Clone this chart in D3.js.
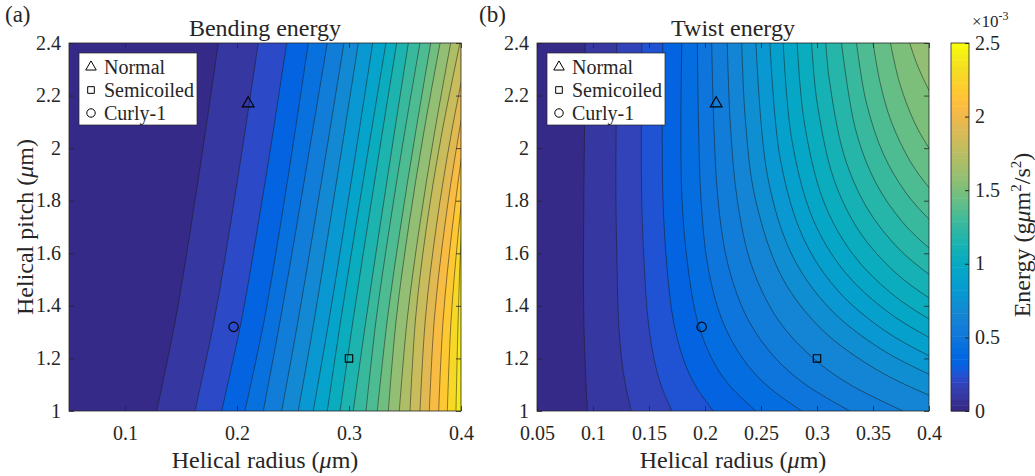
<!DOCTYPE html>
<html><head><meta charset="utf-8">
<script src="https://cdn.jsdelivr.net/npm/d3@7/dist/d3.min.js"></script>
<style>
body{margin:0;background:#fff}
text{font-family:"Liberation Serif","Times New Roman",serif;fill:#262626}
</style></head>
<body><svg id="c" width="1035" height="476"></svg>
<script>
// ---------------- data (energies in units of 1e-3 g um^2/s^2) ----------------
const colorMax = 2.5;
const xTicksA = [0.1, 0.2, 0.3, 0.4];
const xTicksB = [0.05, 0.1, 0.15, 0.2, 0.25, 0.3, 0.35, 0.4];
const yTicks = [1, 1.2, 1.4, 1.6, 1.8, 2, 2.2, 2.4];
const cbTicks = [0, 0.5, 1, 1.5, 2, 2.5];

// Bending energy: contour levels and radius of each contour at the pitch rows
const bendPitchRows = [1.0, 1.35, 1.7, 2.05, 2.4];
const bendLevels = [0.114,0.227,0.341,0.455,0.568,0.682,0.795,0.909,1.023,1.136,1.25,1.364,1.477,1.591,1.705,1.818,1.932,2.045,2.159,2.273,2.386,2.5];
const bendRadius = [
  [0.1283, 0.1452, 0.1588, 0.1714, 0.1833],
  [0.1625, 0.1799, 0.1938, 0.2067, 0.2190],
  [0.1863, 0.2042, 0.2185, 0.2318, 0.2444],
  [0.2071, 0.2245, 0.2385, 0.2514, 0.2637],
  [0.2235, 0.2388, 0.2531, 0.2669, 0.2806],
  [0.2399, 0.2548, 0.2687, 0.2822, 0.2955],
  [0.2547, 0.2691, 0.2824, 0.2955, 0.3083],
  [0.2681, 0.2823, 0.2956, 0.3085, 0.3212],
  [0.2806, 0.2928, 0.3059, 0.3194, 0.3330],
  [0.2920, 0.3038, 0.3164, 0.3294, 0.3426],
  [0.3038, 0.3153, 0.3276, 0.3402, 0.3530],
  [0.3152, 0.3243, 0.3362, 0.3493, 0.3634],
  [0.3253, 0.3343, 0.3460, 0.3591, 0.3730],
  [0.3351, 0.3422, 0.3532, 0.3664, 0.3813],
  [0.3449, 0.3520, 0.3629, 0.3760, 0.3908],
  [0.3545, 0.3594, 0.3692, 0.3826, 0.3991],
  [0.3634, 0.3682, 0.3779, 0.3911, 0.4073],
  [0.3717, 0.3762, 0.3854, 0.3979, 0.4133],
  [0.3801, 0.3841, 0.3923, 0.4034, 0.4170],
  [0.3878, 0.3912, 0.3981, 0.4074, 0.4189],
  [0.3955, 0.3975, 0.4008, 0.4095, 0.4250],
  [0.4030, 0.4050, 0.4090, 0.4170, 0.4300]
];

// Twist energy: contour levels and traced [radius, pitch] points (bottom/right -> top)
const twistLevels = [0.08,0.16,0.24,0.32,0.40,0.48,0.56,0.64,0.72,0.80,0.88,0.96,1.04,1.12,1.20,1.28,1.36,1.44,1.52,1.60];
const twistLines = [
  [[0.0951,1.0],[0.0938,1.1],[0.0929,1.2],[0.0918,1.345],[0.0915,1.55],[0.0918,1.8],[0.0925,2.1],[0.0931,2.4]],
  [[0.1341,1.0],[0.1290,1.1],[0.1255,1.2],[0.1228,1.345],[0.1215,1.55],[0.1205,1.8],[0.1207,2.1],[0.1213,2.4]],
  [[0.1704,1.0],[0.1606,1.1],[0.1544,1.2],[0.1492,1.345],[0.1458,1.55],[0.1435,1.8],[0.1432,2.1],[0.1436,2.4]],
  [[0.2074,1.0],[0.1909,1.1],[0.1805,1.2],[0.1717,1.345],[0.1660,1.55],[0.1625,1.8],[0.1618,2.1],[0.1623,2.4]],
  [[0.2455,1.0],[0.2213,1.1],[0.2060,1.2],[0.1931,1.345],[0.1847,1.55],[0.1795,1.8],[0.1785,2.1],[0.1793,2.4]],
  [[0.2862,1.0],[0.2545,1.1],[0.2337,1.2],[0.2153,1.345],[0.2026,1.55],[0.1965,1.8],[0.1942,2.1],[0.1932,2.4]],
  [[0.3293,1.0],[0.2900,1.1],[0.2631,1.2],[0.2388,1.345],[0.2209,1.55],[0.2117,1.8],[0.2078,2.1],[0.2060,2.4]],
  [[0.3768,1.0],[0.3297,1.1],[0.2968,1.2],[0.2656,1.345],[0.2419,1.55],[0.2289,1.8],[0.2225,2.1],[0.2199,2.4]],
  [[0.4306,1.01],[0.4,1.06],[0.3521,1.16],[0.3044,1.31],[0.2686,1.51],[0.2448,1.81],[0.2360,2.11],[0.2328,2.4]],
  [[0.4284,1.09],[0.4,1.14],[0.3555,1.24],[0.3113,1.39],[0.2781,1.59],[0.2560,1.89],[0.2455,2.4]],
  [[0.4262,1.16],[0.4,1.21],[0.3590,1.31],[0.3182,1.46],[0.2876,1.66],[0.2672,1.96],[0.2580,2.4]],
  [[0.4241,1.23],[0.4,1.28],[0.3622,1.38],[0.3246,1.53],[0.2964,1.73],[0.2776,2.03],[0.2698,2.4]],
  [[0.4220,1.30],[0.4,1.35],[0.3656,1.45],[0.3314,1.60],[0.3057,1.80],[0.2886,2.10],[0.2823,2.4]],
  [[0.4197,1.38],[0.4,1.43],[0.3691,1.53],[0.3383,1.68],[0.3152,1.88],[0.2999,2.18],[0.2952,2.4]],
  [[0.4176,1.47],[0.4,1.52],[0.3724,1.62],[0.3450,1.77],[0.3244,1.97],[0.3107,2.27],[0.3079,2.4]],
  [[0.4153,1.57],[0.4,1.62],[0.3761,1.72],[0.3523,1.87],[0.3345,2.07],[0.3219,2.4]],
  [[0.4131,1.68],[0.4,1.73],[0.3794,1.83],[0.3590,1.98],[0.3437,2.18],[0.3353,2.4]],
  [[0.4108,1.80],[0.4,1.85],[0.3832,1.95],[0.3664,2.10],[0.3563,2.25],[0.3501,2.4]],
  [[0.4085,1.95],[0.4,2.0],[0.3868,2.10],[0.3736,2.25],[0.3656,2.4]],
  [[0.4069,2.17],[0.4,2.22],[0.3892,2.32],[0.3828,2.4]]
];

// Flagellar forms
const formNames = ["Normal", "Semicoiled", "Curly-1"];
const formSymbols = ["triangle", "square", "circle"];
const formRadius = [0.21, 0.30, 0.197];
const formPitch = [2.17, 1.20, 1.32];

// ---------------- colormap (parula, 64) ----------------
const parulaTbl = [[0.2081,0.1663,0.5292],[0.2116,0.1898,0.5777],[0.2123,0.2138,0.6270],[0.2081,0.2386,0.6771],[0.1959,0.2645,0.7279],[0.1707,0.2919,0.7792],[0.1253,0.3242,0.8303],[0.0591,0.3598,0.8683],[0.0117,0.3875,0.8820],[0.0060,0.4086,0.8828],[0.0165,0.4266,0.8786],[0.0329,0.4430,0.8720],[0.0498,0.4586,0.8641],[0.0629,0.4737,0.8554],[0.0723,0.4887,0.8467],[0.0779,0.5040,0.8384],[0.0793,0.5200,0.8312],[0.0749,0.5375,0.8263],[0.0641,0.5570,0.8240],[0.0488,0.5772,0.8228],[0.0343,0.5966,0.8199],[0.0265,0.6137,0.8135],[0.0239,0.6287,0.8038],[0.0231,0.6418,0.7913],[0.0228,0.6535,0.7768],[0.0267,0.6642,0.7607],[0.0384,0.6743,0.7436],[0.0590,0.6838,0.7254],[0.0843,0.6928,0.7062],[0.1133,0.7015,0.6859],[0.1453,0.7098,0.6646],[0.1801,0.7177,0.6424],[0.2178,0.7250,0.6193],[0.2586,0.7317,0.5954],[0.3022,0.7376,0.5712],[0.3482,0.7424,0.5473],[0.3953,0.7459,0.5244],[0.4420,0.7481,0.5033],[0.4871,0.7491,0.4840],[0.5300,0.7491,0.4661],[0.5709,0.7485,0.4494],[0.6099,0.7473,0.4337],[0.6473,0.7456,0.4188],[0.6834,0.7435,0.4044],[0.7184,0.7411,0.3905],[0.7525,0.7384,0.3768],[0.7858,0.7356,0.3633],[0.8185,0.7327,0.3498],[0.8507,0.7299,0.3360],[0.8824,0.7274,0.3217],[0.9139,0.7258,0.3063],[0.9450,0.7261,0.2886],[0.9739,0.7314,0.2666],[0.9938,0.7455,0.2403],[0.9990,0.7653,0.2164],[0.9955,0.7861,0.1967],[0.9880,0.8066,0.1794],[0.9789,0.8271,0.1633],[0.9697,0.8481,0.1475],[0.9626,0.8705,0.1309],[0.9589,0.8949,0.1132],[0.9598,0.9218,0.0948],[0.9661,0.9514,0.0755],[0.9763,0.9831,0.0538]];
const toRgb = c => d3.rgb(c[0]*255, c[1]*255, c[2]*255).formatHex();
const colorScale = d3.scaleQuantize().domain([0, colorMax]).range(parulaTbl.map(toRgb));
function levelColor(v){ return colorScale(Math.min(v, colorMax*0.99999)); }

// ---------------- layout ----------------
const svg = d3.select("#c");
const plotW = 392, plotH = 368, plotTop = 43;
const axisCol = "#262626";
const serif = '"Liberation Serif","Times New Roman",serif';

function drawPanel(opt){
  const g = svg.append("g").attr("transform", `translate(${opt.left},${plotTop})`);
  const x = d3.scaleLinear().domain([0.05, 0.4]).range([0, plotW]);
  const y = d3.scaleLinear().domain([1, 2.4]).range([plotH, 0]);
  const clipId = "clip" + opt.key;
  g.append("clipPath").attr("id", clipId).append("rect").attr("width", plotW).attr("height", plotH);
  const body = g.append("g").attr("clip-path", `url(#${clipId})`);
  body.append("rect").attr("width", plotW).attr("height", plotH).attr("fill", levelColor(0));

  const lineGen = d3.line().x(d => x(d[0])).y(d => y(d[1])).curve(d3.curveCatmullRom.alpha(0.5));
  opt.lines.forEach((pts, i) => {
    const first = pts[0], last = pts[pts.length - 1];
    const d = "M" + x(first[0]) + "," + y(0) + "L" + lineGen(pts).slice(1)
      + "L" + x(last[0]) + "," + y(3.5)
      + "L" + x(1) + "," + y(3.5) + "L" + x(1) + "," + y(0) + "Z";
    body.append("path").attr("d", d).attr("fill", levelColor(opt.levels[i])).attr("stroke", "none");
  });
  opt.lines.forEach(pts => {
    body.append("path").attr("d", lineGen(pts)).attr("fill", "none")
      .attr("stroke", "#1a1a1a").attr("stroke-width", 0.6).attr("stroke-opacity", 0.85);
  });

  // markers
  const sym = {triangle: d3.symbolTriangle, square: d3.symbolSquare, circle: d3.symbolCircle};
  const symSize = {triangle: 60, square: 55, circle: 70};
  formNames.forEach((n, i) => {
    g.append("path").attr("d", d3.symbol(sym[formSymbols[i]], symSize[formSymbols[i]])())
      .attr("transform", `translate(${x(formRadius[i])},${y(formPitch[i])})`)
      .attr("fill", "none").attr("stroke", "#000").attr("stroke-width", 1.1);
  });

  // axes (MATLAB style: ticks inside, full box)
  const fmt = v => String(+v.toFixed(2));
  const ax = g.append("g");
  ax.append("g").attr("transform", `translate(0,${plotH})`)
    .call(d3.axisBottom(x).tickValues(opt.xTicks).tickFormat(fmt).tickSizeInner(-5).tickSizeOuter(0).tickPadding(15));
  const leftAx = ax.append("g")
    .call(d3.axisLeft(y).tickValues(yTicks).tickFormat(fmt).tickSizeInner(-5).tickSizeOuter(0).tickPadding(8));
  ax.append("g").call(d3.axisTop(x).tickValues(opt.xTicks).tickFormat("").tickSizeInner(-5).tickSizeOuter(0));
  ax.append("g").attr("transform", `translate(${plotW},0)`)
    .call(d3.axisRight(y).tickValues(yTicks).tickFormat("").tickSizeInner(-5).tickSizeOuter(0));
  ax.selectAll(".domain").remove();
  ax.selectAll(".tick line").attr("stroke", axisCol).attr("stroke-width", 0.8);
  ax.selectAll(".tick text").attr("font-size", 20).attr("fill", axisCol).attr("font-family", serif);
  leftAx.selectAll(".tick text").attr("dy", "0.3em");
  g.append("rect").attr("width", plotW).attr("height", plotH).attr("fill", "none")
    .attr("stroke", axisCol).attr("stroke-width", 0.8);

  // title
  g.append("text").attr("x", plotW/2).attr("y", -7).attr("text-anchor", "middle")
    .attr("font-size", 24).text(opt.title);
  // panel label
  svg.append("text").attr("x", opt.labelX).attr("y", 22).attr("font-size", 23).text(opt.label);
  // x label
  const xl = g.append("text").attr("x", plotW/2).attr("y", plotH + 57).attr("text-anchor", "middle").attr("font-size", 24);
  xl.append("tspan").text("Helical radius (");
  xl.append("tspan").attr("font-style", "italic").text("μ");
  xl.append("tspan").text("m)");
  if (opt.ylabel) {
    const yl = g.append("text").attr("transform", `translate(-36,${plotH/2}) rotate(-90)`)
      .attr("text-anchor", "middle").attr("font-size", 24);
    yl.append("tspan").text("Helical pitch (");
    yl.append("tspan").attr("font-style", "italic").text("μ");
    yl.append("tspan").text("m)");
  }

  // legend
  const lg = g.append("g").attr("transform", "translate(10,10)");
  lg.append("rect").attr("width", 118).attr("height", 72).attr("fill", "#fff")
    .attr("stroke", axisCol).attr("stroke-width", 0.7);
  formNames.forEach((n, i) => {
    const yy = 14 + i * 23;
    lg.append("path").attr("d", d3.symbol(sym[formSymbols[i]], symSize[formSymbols[i]] * 0.8)())
      .attr("transform", `translate(12,${yy})`).attr("fill", "none").attr("stroke", "#000").attr("stroke-width", 1);
    lg.append("text").attr("x", 25).attr("y", yy + 7).attr("font-size", 20).text(n);
  });
}

drawPanel({key: "a", left: 69, title: "Bending energy", label: "(a)", labelX: 5, xTicks: xTicksA, ylabel: true,
  levels: bendLevels, lines: bendRadius.map(rs => rs.map((r, i) => [r, bendPitchRows[i]]))});
drawPanel({key: "b", left: 537, title: "Twist energy", label: "(b)", labelX: 479, xTicks: xTicksB, ylabel: false,
  levels: twistLevels, lines: twistLines});

// ---------------- colorbar ----------------
const cb = svg.append("g").attr("transform", `translate(951,${plotTop})`);
const cbW = 18;
const cy = d3.scaleLinear().domain([0, colorMax]).range([plotH, 0]);
parulaTbl.forEach((c, i) => {
  cb.append("rect").attr("x", 0).attr("width", cbW)
    .attr("y", plotH - (i + 1) * plotH / 64).attr("height", plotH / 64 + 0.5).attr("fill", toRgb(c));
});
cb.append("rect").attr("width", cbW).attr("height", plotH).attr("fill", "none").attr("stroke", axisCol).attr("stroke-width", 0.8);
const cax = cb.append("g").attr("transform", `translate(${cbW},0)`)
  .call(d3.axisRight(cy).tickValues(cbTicks).tickFormat(d => String(d)).tickSizeInner(-4).tickSizeOuter(0).tickPadding(6));
cax.select(".domain").remove();
cax.selectAll(".tick line").attr("stroke", axisCol);
cax.selectAll(".tick text").attr("font-size", 20).attr("font-family", serif).attr("fill", axisCol).attr("dy", "0.3em");
const ex = cb.append("text").attr("x", 21).attr("y", -16).attr("font-size", 17);
ex.append("tspan").text("×10");
ex.append("tspan").attr("dy", -7).attr("font-size", 12).text("-3");
const cbl = svg.append("text").attr("transform", `translate(1030,${plotTop + plotH/2 + 8}) rotate(-90)`)
  .attr("text-anchor", "middle").attr("font-size", 24);
cbl.append("tspan").text("Energy (g");
cbl.append("tspan").attr("font-style", "italic").text("μ");
cbl.append("tspan").text("m");
cbl.append("tspan").attr("dy", -9).attr("font-size", 15).text("2");
cbl.append("tspan").attr("dy", 9).text("/s");
cbl.append("tspan").attr("dy", -9).attr("font-size", 15).text("2");
cbl.append("tspan").attr("dy", 9).text(")");
</script></body></html>
